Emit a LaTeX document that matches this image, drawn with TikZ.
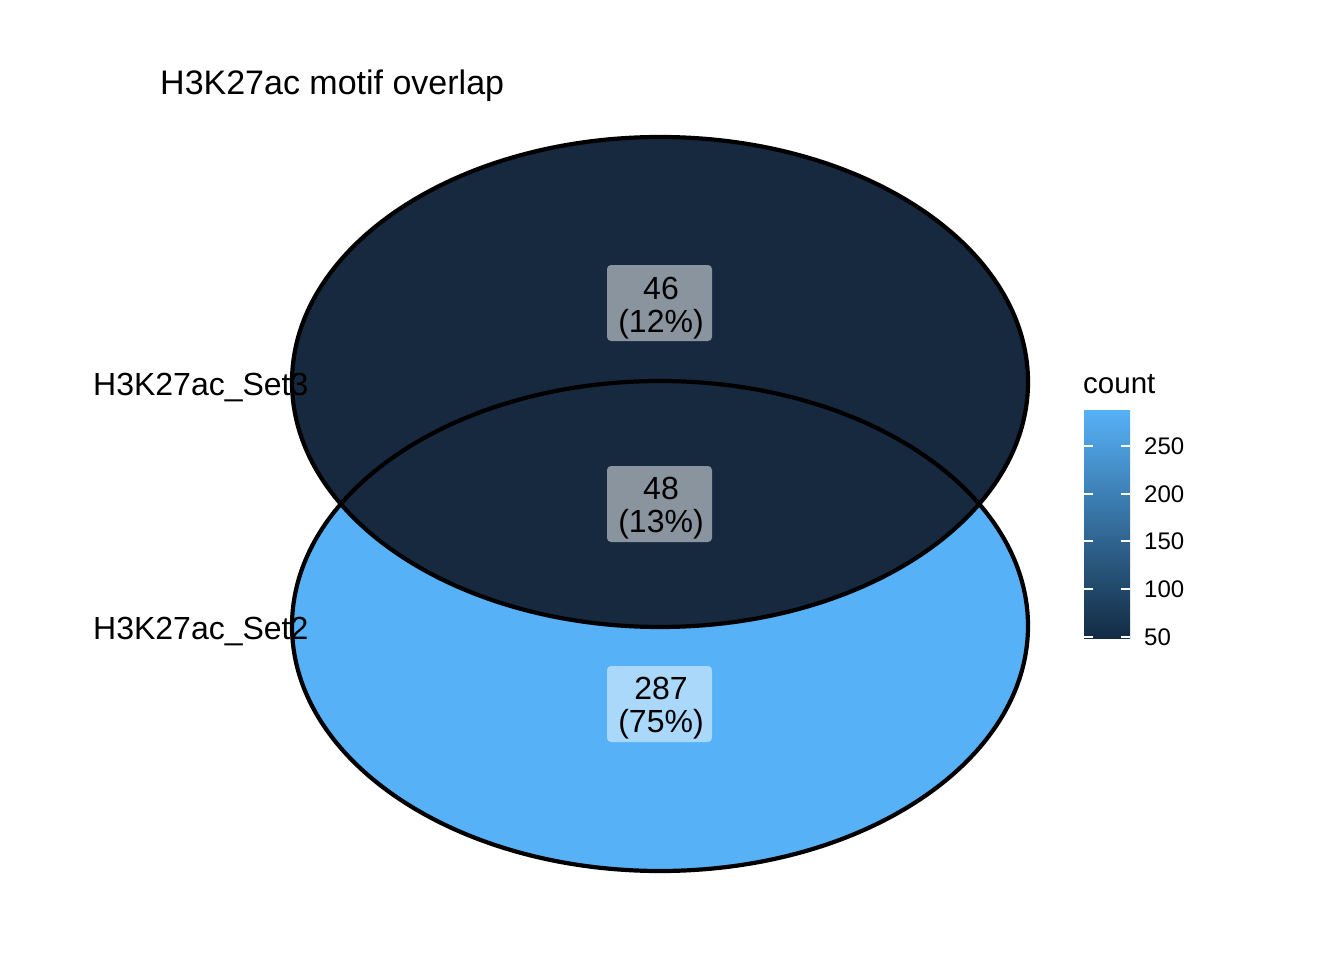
\documentclass[tikz,border=0pt]{standalone}
\usepackage{fontspec}
\setmainfont{Liberation Sans}
\definecolor{lowblue}{RGB}{19,43,67}
\definecolor{darkset}{RGB}{22,41,63}
\definecolor{highblue}{RGB}{86,177,247}
\tikzset{
  setedge/.style={draw=black, line width=4.2pt},
  countbox/.style={rectangle, rounded corners=4pt, fill=white, fill opacity=0.5, draw=none, minimum width=105pt, minimum height=76pt, inner sep=0pt},
  counttext/.style={align=center, anchor=base, inner sep=0pt, font=\fontsize{32}{33}\selectfont},
  setlabel/.style={anchor=base west, inner sep=0pt, font=\fontsize{32}{34}\selectfont},
  ticklabel/.style={anchor=base west, inner sep=0pt, font=\fontsize{24}{26}\selectfont},
  tickmark/.style={draw=white, line width=1.4pt}
}
\begin{document}
\begin{tikzpicture}[x=1pt, y=-1pt]
\useasboundingbox (0,0) rectangle (1344,960);
\fill[white] (0,0) rectangle (1344,960);
% title
\node[anchor=base west, inner sep=0pt, font=\fontsize{34}{36}\selectfont] (title) at (160,95) {H3K27ac motif overlap};
% ellipses
\fill[highblue] (660,626) ellipse [x radius=368pt, y radius=245pt];
\fill[darkset] (660,382) ellipse [x radius=368pt, y radius=245pt];
\draw[setedge] (660,626) ellipse [x radius=368pt, y radius=245pt];
\draw[setedge] (660,382) ellipse [x radius=368pt, y radius=245pt];
% count boxes
\node[countbox] (box46) at (659.5,303) {};
\node[countbox] (box48) at (659.5,504) {};
\node[countbox] (box287) at (659.5,704) {};
\node[counttext] (t46) at (661,332.5) {46\\(12\%)};
\node[counttext] (t48) at (661,532.5) {48\\(13\%)};
\node[counttext] (t287) at (661,732.5) {287\\(75\%)};
% set labels
\node[setlabel] (set3) at (93,395) {H3K27ac\_Set3};
\node[setlabel] (set2) at (93,639) {H3K27ac\_Set2};
% legend
\node[anchor=base west, inner sep=0pt, font=\fontsize{29.5}{32}\selectfont] (legtitle) at (1083,393) {count};
\shade[top color=highblue, bottom color=lowblue] (1084,410) rectangle (1130,638);
\foreach \v/\yy in {250/446,200/494,150/541,100/589,50/637}{
  \draw[tickmark] (1084,\yy) -- (1093,\yy);
  \draw[tickmark] (1121,\yy) -- (1130,\yy);
  \node[ticklabel] (tick\v) at (1144,\yy+8.5) {\v};
}
\end{tikzpicture}
\end{document}
